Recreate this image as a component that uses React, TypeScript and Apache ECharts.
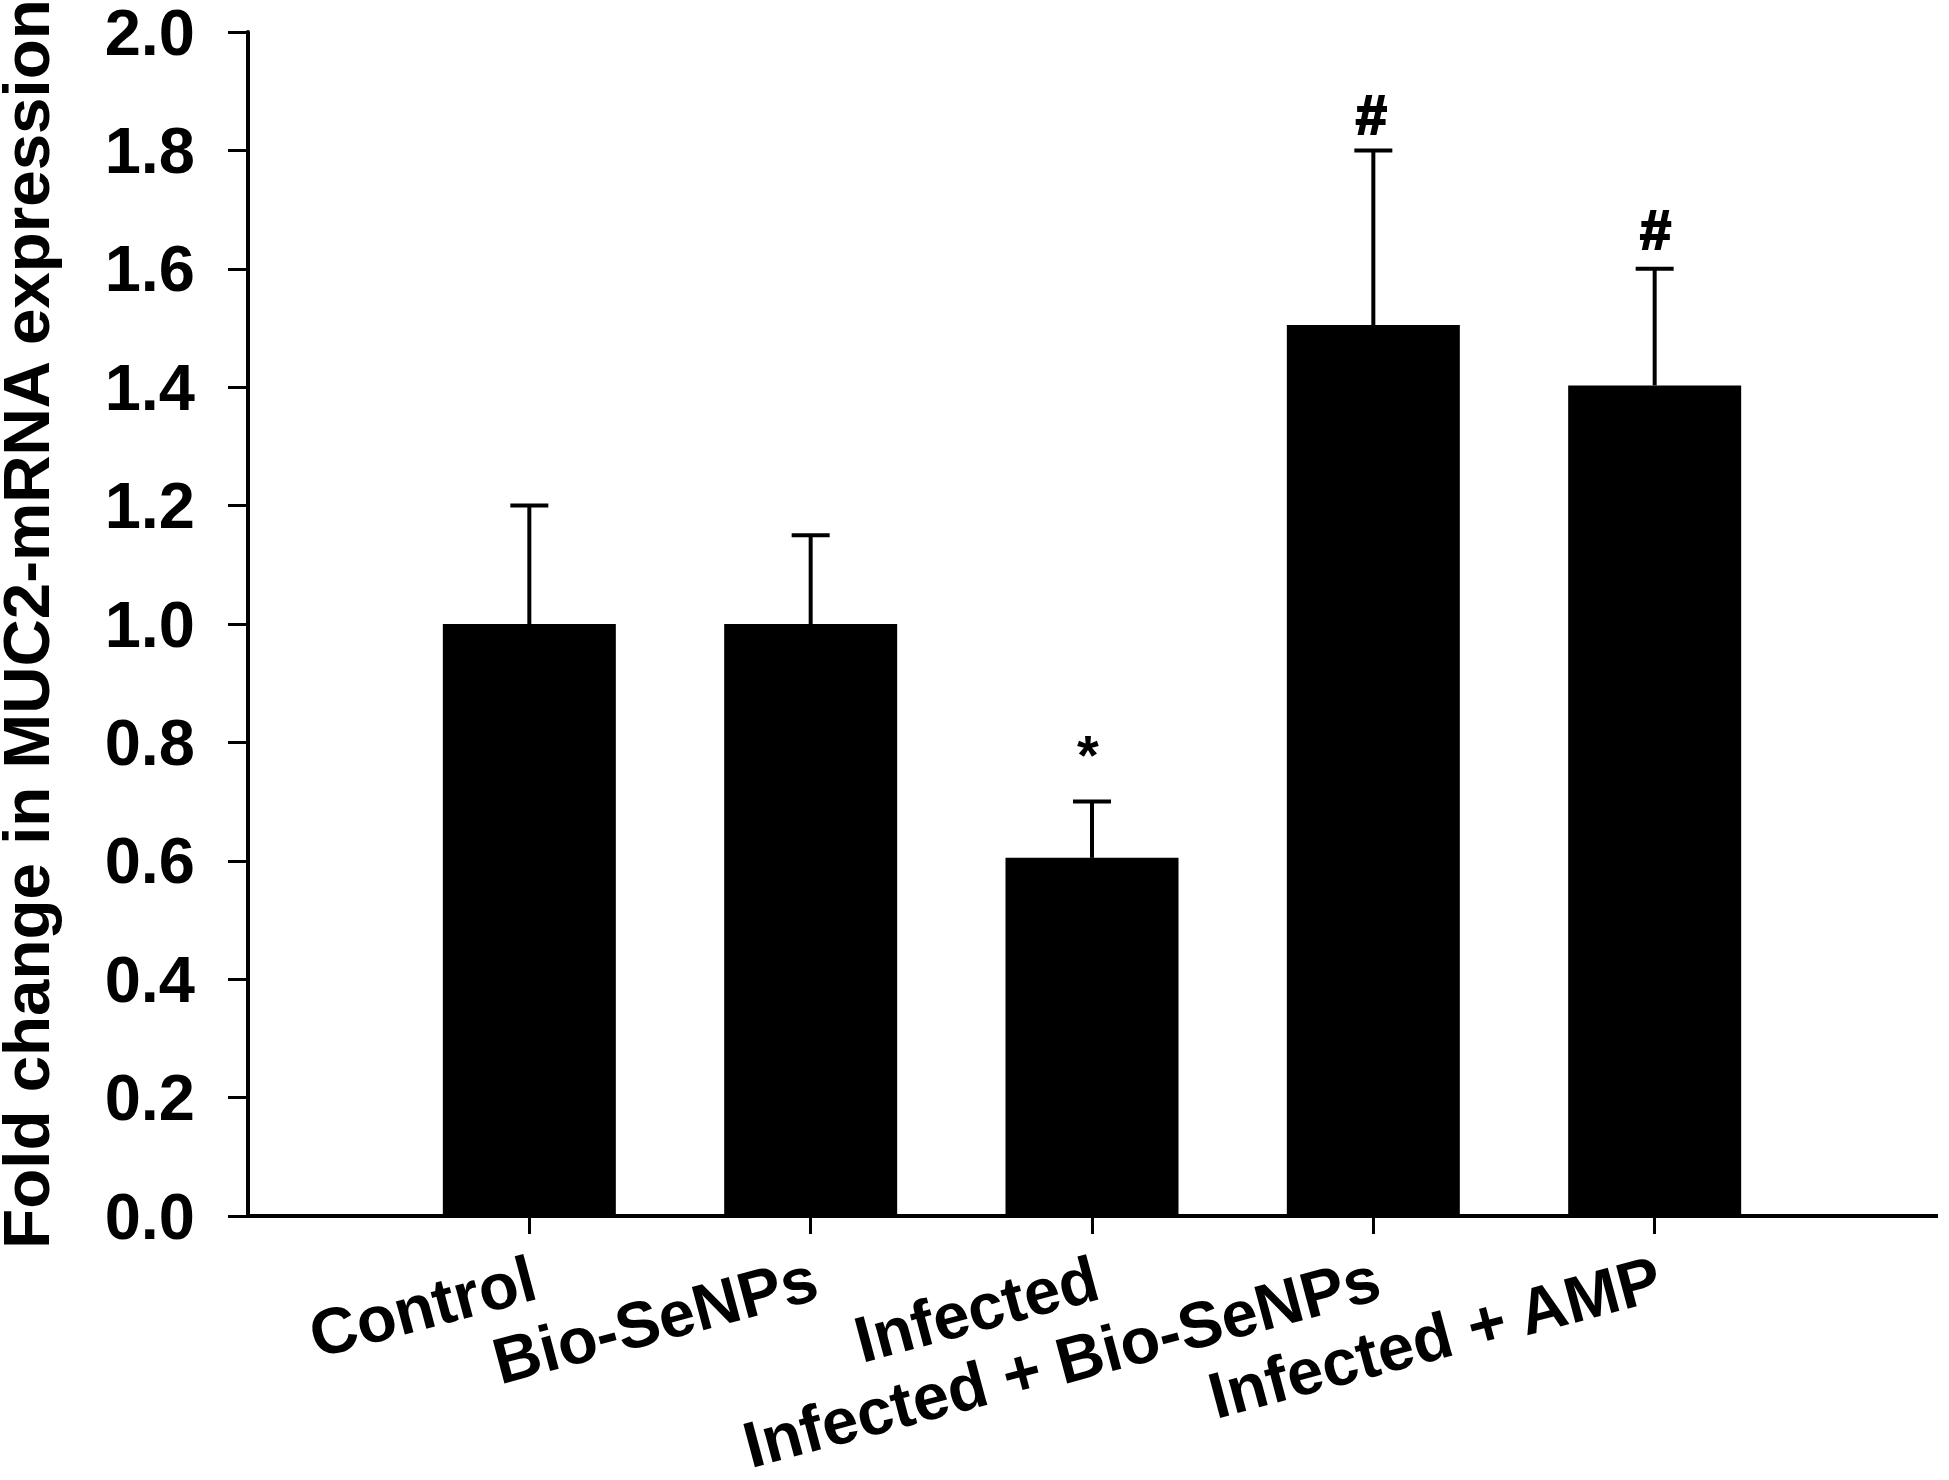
import React, { useEffect, useRef } from "react";
import * as echarts from "echarts";

const categories = ["", "Control", "Bio-SeNPs", "Infected", "Infected + Bio-SeNPs", "Infected + AMP", ""];
const means = [null, 1.0, 1.0, 0.605, 1.505, 1.403, null];
const upperErrors = [null, 1.2, 1.15, 0.7, 1.8, 1.6, null];
const marks = ["", "", "", "*", "#", "#", ""];
const yAxisTitle = "Fold change in MUC2-mRNA expression";

const FONT = '"Liberation Sans", Arial, sans-serif';

export default function App() {
  const ref = useRef<HTMLDivElement>(null);
  useEffect(() => {
    if (!ref.current) return;
    const chart = echarts.init(ref.current, null, { renderer: "svg" });
    chart.setOption({
      animation: false,
      backgroundColor: "#ffffff",
      grid: { left: 248, right: 13, top: 32, bottom: 264, containLabel: false, outerBoundsMode: "none" },
      xAxis: {
        type: "category",
        data: categories,
        boundaryGap: false,
        axisLine: { show: true, lineStyle: { color: "#000", width: 4, cap: "square" } },
        axisTick: {
          show: true,
          length: 18,
          lineStyle: { color: "#000", width: 3 },
          interval: (i: number) => i >= 1 && i <= 5,
        },
        axisLabel: {
          interval: 0,
          rotate: 15,
          margin: 62,
          padding: [0, -5, 0, 0],
          color: "#000",
          fontFamily: FONT,
          fontWeight: "bold",
          fontSize: 65,
        },
        splitLine: { show: false },
      },
      yAxis: {
        type: "value",
        min: 0,
        max: 2,
        interval: 0.2,
        name: yAxisTitle,
        nameLocation: "middle",
        nameRotate: 90,
        nameGap: 189,
        nameTextStyle: { color: "#000", fontFamily: FONT, fontWeight: "bold", fontSize: 65.5 },
        axisLine: { show: true, lineStyle: { color: "#000", width: 4 } },
        axisTick: { show: true, length: 20, lineStyle: { color: "#000", width: 3 } },
        axisLabel: {
          margin: 53,
          padding: [0, 0, 3, 0],
          color: "#000",
          fontFamily: FONT,
          fontWeight: "bold",
          fontSize: 65,
          formatter: (v: number) => v.toFixed(1),
        },
        splitLine: { show: false },
      },
      series: [
        {
          type: "bar",
          data: means,
          barWidth: 173,
          itemStyle: { color: "#000" },
          z: 2,
        },
        {
          type: "custom",
          data: upperErrors.map((u, i) => [i, means[i], u, marks[i]]),
          encode: { x: 0, y: 2 },
          z: 3,
          renderItem: (params: any, api: any) => {
            const i = api.value(0);
            const mean = api.value(1);
            const upper = api.value(2);
            if (!isFinite(mean) || !isFinite(upper)) return null;
            const base = api.coord([i, mean]);
            const top = api.coord([i, upper]);
            const mark = marks[i];
            const children: any[] = [
              { type: "line", shape: { x1: base[0], y1: base[1], x2: top[0], y2: top[1] }, style: { stroke: "#000", lineWidth: 4 } },
              { type: "line", shape: { x1: top[0] - 19, y1: top[1], x2: top[0] + 19, y2: top[1] }, style: { stroke: "#000", lineWidth: 4 } },
            ];
            if (mark) {
              children.push({
                type: "text",
                style: {
                  text: mark,
                  x: top[0] + (mark === "*" ? -4 : i === 5 ? 1 : -2),
                  y: top[1] - (mark === "*" ? 19 : i === 5 ? 11 : 8),
                  fill: "#000",
                  stroke: "#000",
                  lineWidth: mark === "*" ? 0 : 2,
                  font: `bold 56px ${FONT}`,
                  textAlign: "center",
                  textVerticalAlign: "bottom",
                },
              });
            }
            return { type: "group", children };
          },
        },
      ],
    });
    return () => chart.dispose();
  }, []);
  return <div ref={ref} style={{ position: "fixed", left: 0, top: 0, width: 1949, height: 1480 }} />;
}
